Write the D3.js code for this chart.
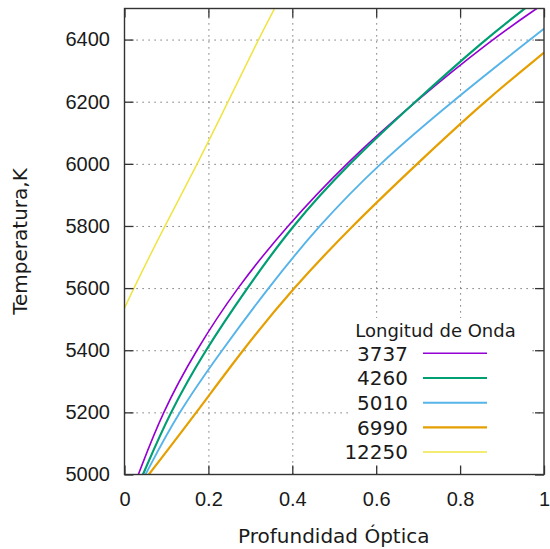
<!DOCTYPE html>
<html>
<head>
<meta charset="utf-8">
<script src="https://cdn.jsdelivr.net/npm/d3@7"></script>
<style>
  body { margin: 0; background: #fff; }
  svg { display: block; font-family: "DejaVu Sans", sans-serif; }
  .tick text { font-size: 20px; fill: #1a1a1a; }
  .grid line { stroke: #555; stroke-width: 1; stroke-dasharray: 1.2,4.8; }
  .grid path, .axis path { display: none; }
  .axis line { stroke: #333; stroke-width: 1.3; }
</style>
</head>
<body>
<div id="chart"></div>
<script>
// Wavelengths (legend order) and colours
var waves = ['3737', '4260', '5010', '6990', '12250'];
var colors = ['#9400d3', '#009e73', '#56b4e9', '#e69f00', '#f0e442'];
var widths = [1.6, 2.2, 1.9, 2.2, 1.5];

// Curve readings: optical depth vs temperature (K)
var tau3737 = [0.033, 0.090, 0.170, 0.267, 0.387, 0.526, 0.692, 0.875, 0.986, 1.0];
var temp3737 = [5000, 5200, 5400, 5600, 5800, 6000, 6200, 6400, 6503, 6516];

var tau4260 = [0.044, 0.108, 0.192, 0.292, 0.399, 0.534, 0.692, 0.859, 0.957, 1.0];
var temp4260 = [5000, 5200, 5400, 5600, 5800, 6000, 6200, 6400, 6503, 6548];

var tau5010 = [0.050, 0.128, 0.232, 0.342, 0.462, 0.606, 0.780, 0.967, 1.0];
var temp5010 = [5000, 5200, 5400, 5600, 5800, 6000, 6200, 6400, 6435];

var tau6990 = [0.058, 0.172, 0.281, 0.402, 0.542, 0.697, 0.857, 1.0];
var temp6990 = [5000, 5200, 5400, 5600, 5800, 6000, 6200, 6358];

var tau12250 = [0, 0.022, 0.096, 0.174, 0.247, 0.319, 0.359];
var temp12250 = [5535, 5600, 5800, 6000, 6200, 6400, 6503];

// Axis ticks
var ticksX = [0, 0.2, 0.4, 0.6, 0.8, 1];
var ticksY = [5000, 5200, 5400, 5600, 5800, 6000, 6200, 6400];

var series = [
  { name: waves[0], tau: tau3737, temp: temp3737 },
  { name: waves[1], tau: tau4260, temp: temp4260 },
  { name: waves[2], tau: tau5010, temp: temp5010 },
  { name: waves[3], tau: tau6990, temp: temp6990 },
  { name: waves[4], tau: tau12250, temp: temp12250 }
].map(function(s, i) {
  return {
    name: s.name,
    color: colors[i],
    width: widths[i],
    values: s.tau.map(function(t, j) { return { tau: t, temp: s.temp[j] }; })
  };
});

var render = function() {
  var width = 550, height = 549;
  var left = 124.5, right = 544, top = 8.5, bottom = 474.5;
  var chartWidth = right - left, chartHeight = bottom - top;

  var svg = d3.select('#chart').append('svg')
    .attr('width', width)
    .attr('height', height);

  var xScale = d3.scaleLinear().domain([0, 1]).range([left, right]);
  var yScale = d3.scaleLinear().domain([5000, 6500]).range([bottom, top]);

  // clip for the curves
  svg.append('clipPath').attr('id', 'plot-clip')
    .append('rect')
    .attr('x', left).attr('y', top)
    .attr('width', chartWidth).attr('height', chartHeight);

  // grid
  svg.append('g')
    .attr('class', 'grid')
    .attr('transform', `translate(${left},0)`)
    .call(d3.axisLeft(yScale).tickValues(ticksY.slice(1)).tickSize(-chartWidth).tickFormat(''));

  svg.append('g')
    .attr('class', 'grid')
    .attr('transform', `translate(0,${bottom})`)
    .call(d3.axisBottom(xScale).tickValues(ticksX.slice(1, -1)).tickSize(-chartHeight).tickFormat(''));

  // curves (smoothed through the readings)
  var line = d3.line()
    .x(d => xScale(d.tau))
    .y(d => yScale(d.temp))
    .curve(d3.curveBasis);

  svg.append('g')
    .attr('clip-path', 'url(#plot-clip)')
    .selectAll('path')
    .data(series)
    .enter()
    .append('path')
    .attr('fill', 'none')
    .attr('stroke', d => d.color)
    .attr('stroke-width', d => d.width)
    .attr('d', d => line(d.values));

  // legend (opaque box over the grid)
  var legend = svg.append('g').attr('class', 'legend');

  legend.append('rect')
    .attr('x', 348).attr('y', 318)
    .attr('width', 184).attr('height', 146)
    .attr('fill', '#fff');

  legend.append('text')
    .attr('x', 435.5).attr('y', 330.5)
    .attr('dy', '0.35em')
    .attr('text-anchor', 'middle')
    .style('font-size', '18px')
    .style('fill', '#1a1a1a')
    .text('Longitud de Onda');

  var items = legend.selectAll('g.item')
    .data(series)
    .enter()
    .append('g')
    .attr('class', 'item')
    .attr('transform', (d, i) => `translate(0,${353.3 + i * 24.7})`);

  items.append('text')
    .attr('x', 408)
    .attr('dy', '0.36em')
    .attr('text-anchor', 'end')
    .style('font-size', '20px')
    .style('fill', '#1a1a1a')
    .text(d => d.name);

  items.append('line')
    .attr('x1', 423).attr('x2', 487)
    .attr('stroke', d => d.color)
    .attr('stroke-width', d => d.width);

  // axes with inward ticks, mirrored on all sides
  var tick = 9;

  svg.append('g')
    .attr('class', 'axis')
    .attr('transform', `translate(${left},0)`)
    .call(d3.axisLeft(yScale).tickValues(ticksY).tickSize(-tick).tickPadding(14.5).tickFormat(d3.format('d')));

  svg.append('g')
    .attr('class', 'axis')
    .attr('transform', `translate(${right},0)`)
    .call(d3.axisRight(yScale).tickValues(ticksY).tickSize(-tick).tickFormat(''));

  svg.append('g')
    .attr('class', 'axis')
    .attr('transform', `translate(0,${bottom})`)
    .call(d3.axisBottom(xScale).tickValues(ticksX).tickSize(-tick).tickPadding(17).tickFormat(d3.format('')));

  svg.append('g')
    .attr('class', 'axis')
    .attr('transform', `translate(0,${top})`)
    .call(d3.axisTop(xScale).tickValues(ticksX).tickSize(-tick).tickFormat(''));

  // frame
  svg.append('rect')
    .attr('x', left).attr('y', top)
    .attr('width', chartWidth).attr('height', chartHeight)
    .attr('fill', 'none')
    .attr('stroke', '#333')
    .attr('stroke-width', 1.4);

  // axis titles
  svg.append('text')
    .attr('x', (left + right) / 2 - 0.5)
    .attr('y', 543)
    .attr('text-anchor', 'middle')
    .style('font-size', '20px')
    .style('fill', '#1a1a1a')
    .text('Profundidad Óptica');

  svg.append('text')
    .attr('transform', `translate(27,${(top + bottom) / 2}) rotate(-90)`)
    .attr('text-anchor', 'middle')
    .style('font-size', '20px')
    .style('fill', '#1a1a1a')
    .text('Temperatura,K');
};

render();
</script>
</body>
</html>
